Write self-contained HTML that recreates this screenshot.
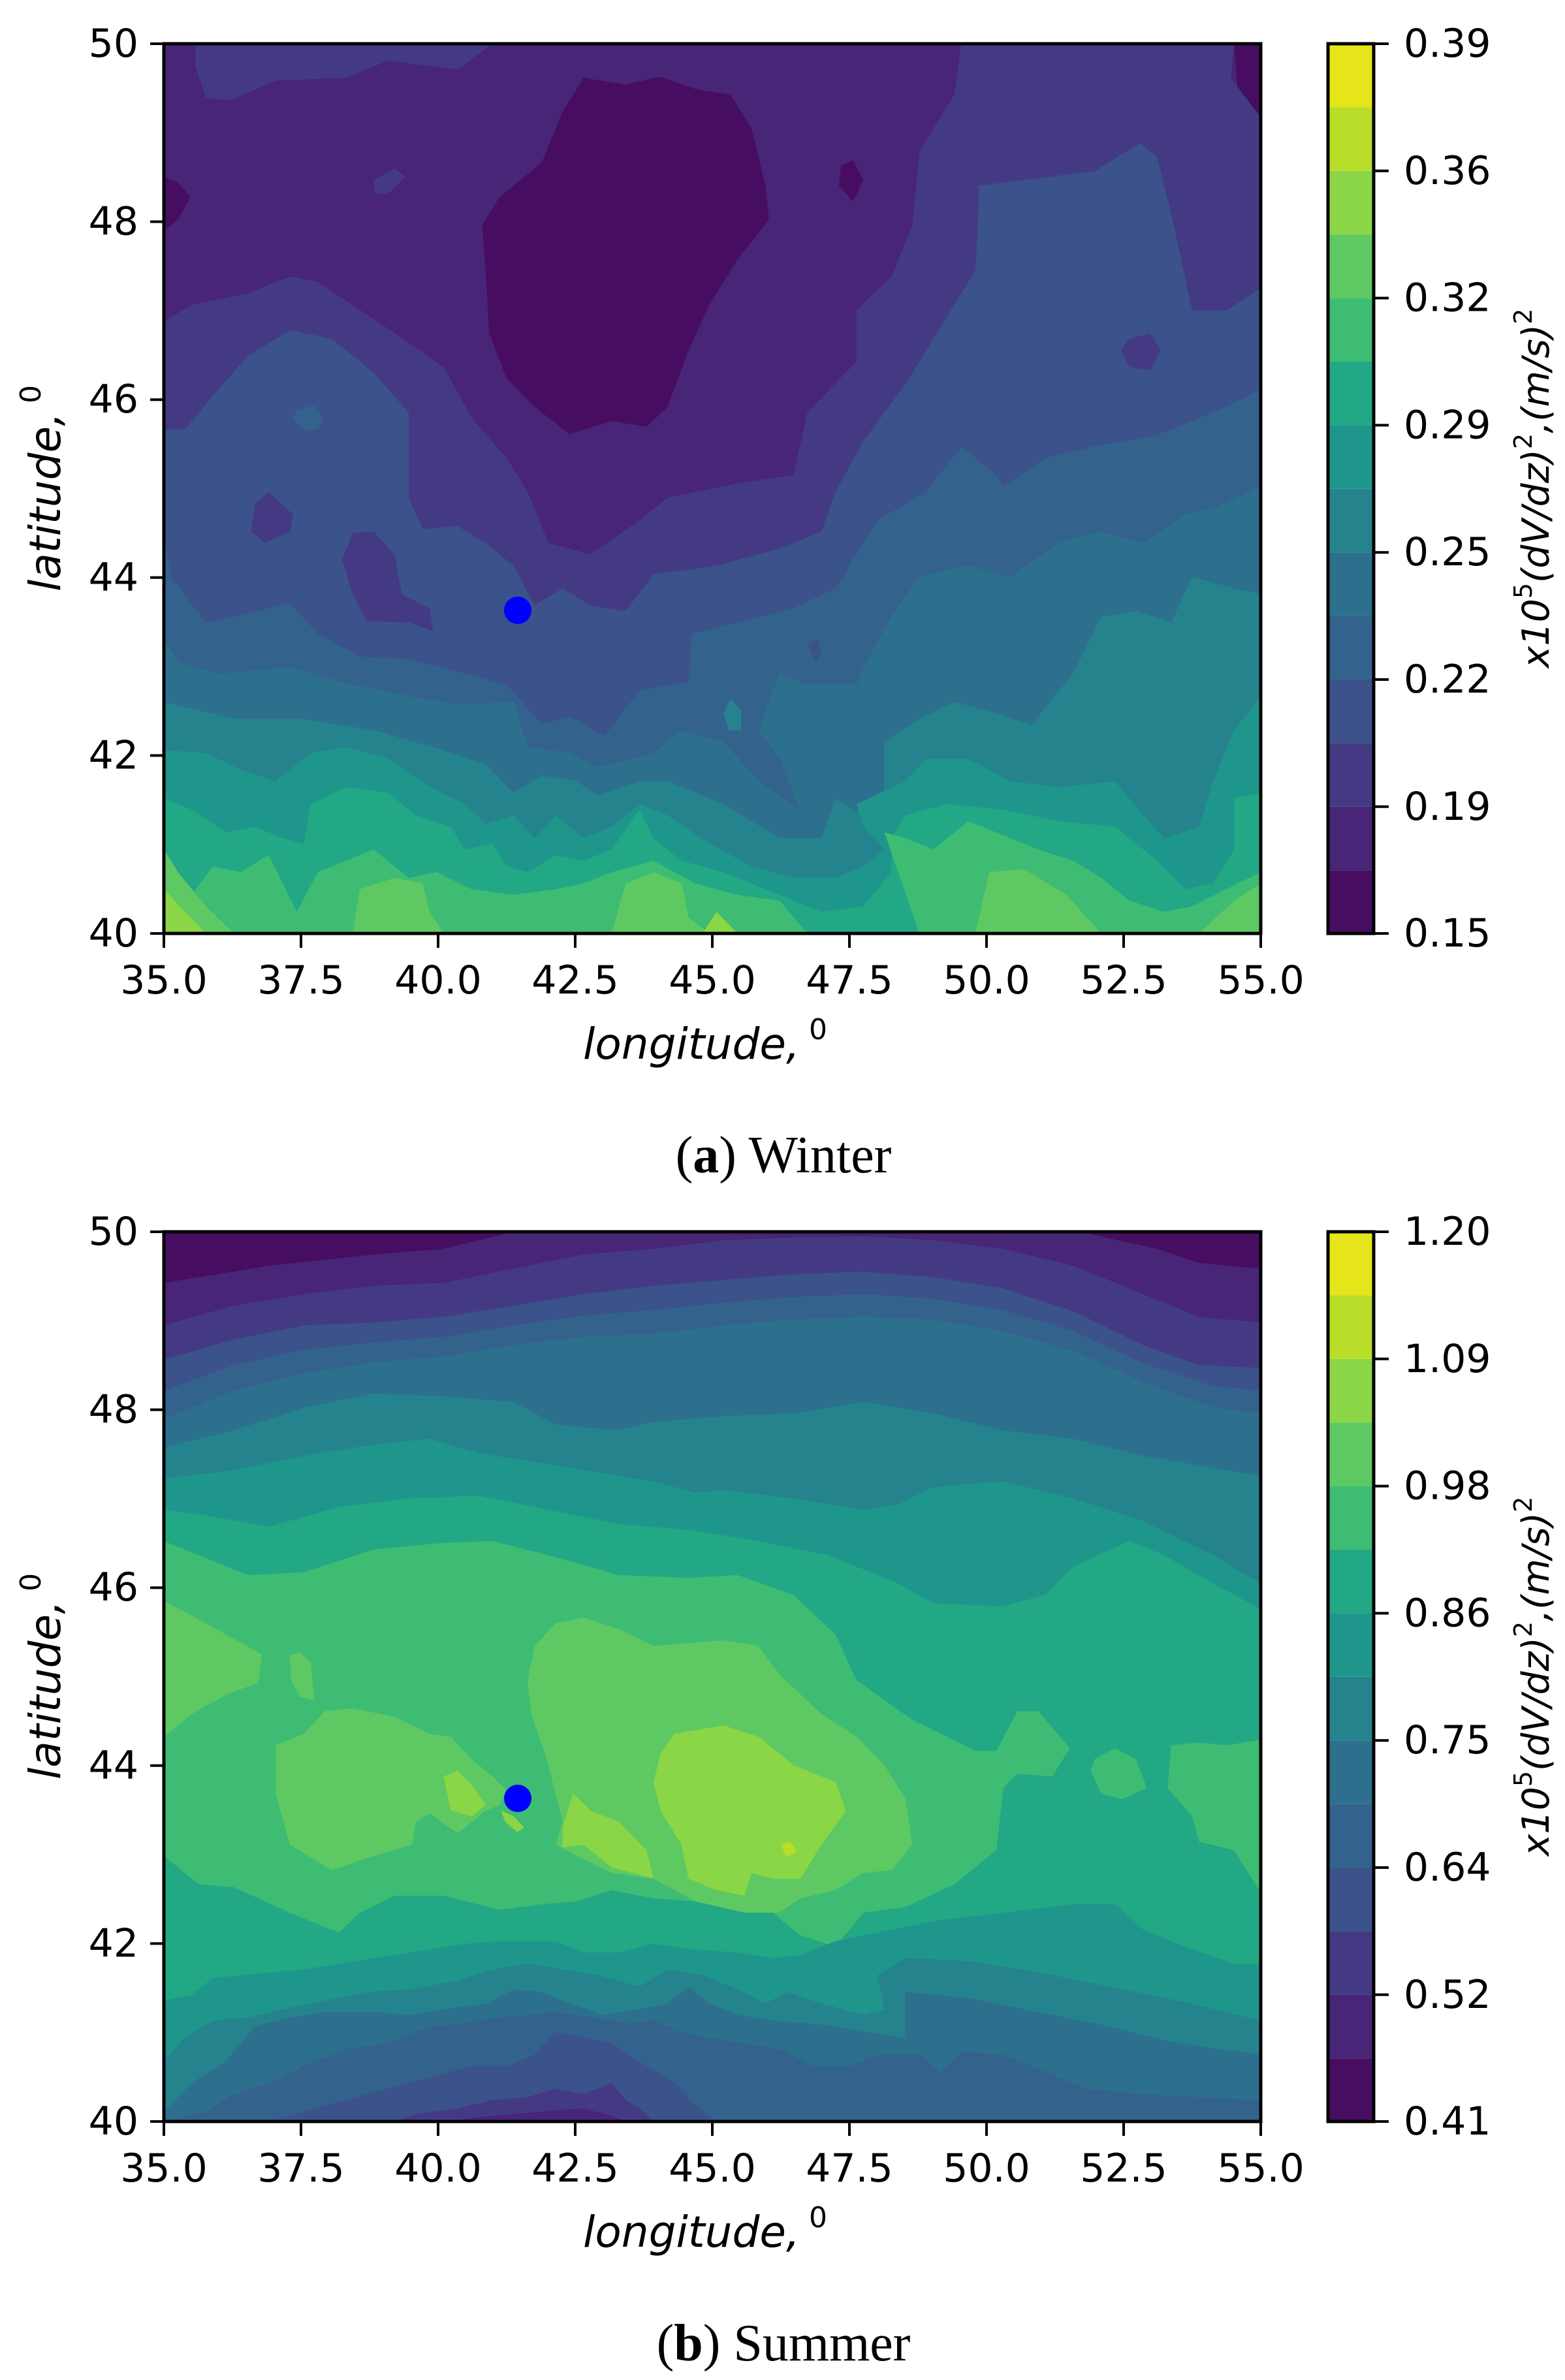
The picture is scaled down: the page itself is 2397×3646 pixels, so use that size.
<!DOCTYPE html>
<html><head><meta charset="utf-8"><style>
html,body{margin:0;padding:0;background:#fff;}
svg{display:block;}
text{font-family:"DejaVu Sans","Liberation Sans",sans-serif;fill:#000;}
</style></head><body>
<svg width="2397" height="3646" viewBox="0 0 2397 3646" xmlns="http://www.w3.org/2000/svg">
<rect width="2397" height="3646" fill="#fff"/>

<!-- ============ WINTER PLOT ============ -->
<svg x="251" y="67" width="1680" height="1363" viewBox="0 0 1568 1568" preserveAspectRatio="none">
<rect width="1568" height="1568" fill="#482576"/>
<polygon fill="#470d60" points="600,60 660,72 710,58 760,80 810,90 840,150 860,250 865,310 820,380 780,460 750,540 720,640 690,675 640,665 580,688 530,640 490,590 465,510 460,400 455,320 480,270 540,210 570,120"/>
<polygon fill="#470d60" points="0,235 20,245 38,270 20,310 0,330"/>
<polygon fill="#470d60" points="985,205 1000,240 985,278 965,250 968,215"/>
<polygon fill="#470d60" points="1530,0 1568,0 1568,130 1535,90"/>
<polygon fill="#443a83" points="45,0 470,0 420,45 320,30 260,60 160,65 95,100 60,95 45,40"/>
<polygon fill="#443a83" points="300,240 330,220 345,235 320,265 302,265"/>
<polygon fill="#443a83" points="1140,0 1530,0 1525,60 1568,130 1568,1568 0,1568 0,490 40,460 120,440 180,410 220,420 330,510 400,570 440,660 490,730 520,790 550,880 610,900 680,840 720,800 820,775 900,760 920,650 990,560 990,470 1040,410 1070,320 1080,190 1130,90"/>
<polygon fill="#3b528b" points="1165,250 1230,240 1330,225 1395,175 1420,200 1440,300 1470,470 1520,470 1568,430 1568,1568 0,1568 0,680 30,680 70,620 120,550 180,505 240,520 300,580 350,650 350,800 370,855 420,850 460,880 500,920 530,990 570,960 610,990 660,1000 700,935 790,920 880,890 940,860 960,790 1000,700 1060,600 1110,500 1160,400 1165,280"/>
<polygon fill="#443a83" points="1380,520 1410,510 1425,540 1410,575 1380,570 1368,540"/>
<polygon fill="#443a83" points="150,790 185,830 180,860 145,880 125,860 130,810"/>
<polygon fill="#443a83" points="270,862 300,860 330,900 340,970 380,995 385,1035 350,1020 290,1018 270,970 255,910"/>
<polygon fill="#33638d" points="190,645 215,638 228,660 220,680 200,682 185,660"/>
<polygon fill="#33638d" points="0,860 10,940 60,1020 120,1005 180,985 220,1040 280,1080 350,1085 430,1110 490,1130 540,1200 580,1185 630,1220 680,1140 750,1125 755,1040 820,1020 900,995 960,960 1000,880 1020,840 1090,790 1140,710 1190,760 1200,780 1260,730 1330,710 1420,690 1500,650 1568,610 1568,1568 0,1568"/>
<polygon fill="#3b528b" points="920,1060 935,1050 940,1075 932,1090"/>
<polygon fill="#2d708e" points="0,1050 20,1090 80,1110 180,1100 270,1130 350,1150 420,1165 500,1160 520,1240 580,1250 620,1275 700,1250 740,1210 800,1230 850,1300 910,1350 880,1260 850,1210 880,1110 920,1130 990,1130 1000,1100 1040,1010 1080,940 1150,920 1210,940 1280,880 1340,860 1400,880 1460,830 1500,820 1568,780 1568,1568 0,1568"/>
<polygon fill="#25838e" points="0,1160 100,1190 200,1190 300,1210 400,1245 460,1270 500,1320 540,1290 590,1300 620,1325 680,1300 720,1300 800,1340 880,1400 940,1400 960,1330 1000,1360 1030,1320 1030,1230 1080,1190 1130,1160 1190,1180 1240,1200 1300,1110 1340,1010 1390,1000 1440,1020 1470,940 1530,960 1568,970 1568,1568 0,1568"/>
<polygon fill="#25838e" points="810,1155 825,1175 825,1210 808,1210 800,1180"/>
<polygon fill="#1f968b" points="0,1245 60,1250 110,1280 160,1300 210,1250 260,1240 320,1260 380,1310 430,1340 460,1375 500,1360 530,1400 560,1360 600,1400 640,1380 680,1340 720,1360 780,1410 840,1450 900,1470 960,1470 1000,1450 1030,1420 1000,1380 990,1340 1060,1300 1090,1260 1150,1260 1210,1300 1280,1310 1360,1300 1400,1360 1430,1400 1480,1380 1500,1300 1530,1210 1568,1150 1568,1568 0,1568"/>
<polygon fill="#22a884" points="0,1330 40,1350 90,1390 130,1380 170,1400 200,1410 210,1340 260,1310 320,1320 360,1360 410,1380 430,1420 470,1410 490,1450 520,1460 560,1430 600,1440 640,1420 680,1350 700,1400 740,1440 800,1460 880,1500 940,1530 1000,1520 1040,1460 1040,1400 1060,1360 1120,1340 1200,1350 1280,1370 1360,1380 1420,1440 1460,1490 1500,1480 1530,1420 1530,1330 1568,1320 1568,1568 0,1568"/>
<polygon fill="#3fbc73" points="0,1420 40,1500 70,1450 110,1460 150,1430 190,1530 220,1460 260,1440 300,1420 350,1470 390,1460 440,1490 500,1500 560,1490 600,1480 640,1460 700,1440 760,1480 820,1500 880,1510 920,1568 0,1568"/>
<polygon fill="#3fbc73" points="1080,1568 1030,1390 1060,1400 1100,1420 1150,1370 1250,1420 1300,1440 1340,1470 1380,1510 1430,1530 1470,1520 1568,1460 1568,1568"/>
<polygon fill="#5ec962" points="0,1420 20,1460 60,1520 100,1568 0,1568"/>
<polygon fill="#5ec962" points="270,1568 280,1490 330,1470 370,1480 380,1530 400,1568"/>
<polygon fill="#5ec962" points="640,1568 660,1480 700,1460 740,1480 750,1540 780,1568"/>
<polygon fill="#5ec962" points="1160,1568 1180,1460 1230,1455 1290,1500 1340,1568"/>
<polygon fill="#5ec962" points="1480,1568 1530,1510 1568,1480 1568,1568"/>
<polygon fill="#8bd646" points="0,1490 30,1530 60,1568 0,1568"/>
<polygon fill="#8bd646" points="770,1568 790,1530 820,1568"/>
</svg>
<circle cx="793" cy="935" r="21" fill="#0000ff"/>
<rect x="251" y="67" width="1680" height="1363" fill="none" stroke="#000" stroke-width="5"/>

<!-- ============ SUMMER PLOT ============ -->
<svg x="251" y="1887" width="1680" height="1363" viewBox="0 0 1568 1568" preserveAspectRatio="none">
<rect width="1568" height="1568" fill="#470d60"/>
<polygon fill="#482576" points="0,90 150,60 300,40 400,30 500,0 1310,0 1420,30 1480,55 1568,65 1568,1568 0,1568"/>
<polygon fill="#443a83" points="0,165 100,130 200,110 300,95 400,90 500,65 600,40 700,30 800,15 900,10 1000,8 1100,15 1200,30 1300,60 1400,110 1480,150 1568,160 1568,1568 0,1568"/>
<polygon fill="#3b528b" points="0,225 100,190 200,165 300,160 400,150 500,130 600,110 700,95 800,85 900,75 1000,70 1100,80 1200,100 1300,140 1400,200 1480,235 1568,240 1568,1568 0,1568"/>
<polygon fill="#33638d" points="0,280 100,235 200,208 300,195 400,185 500,165 600,148 700,138 800,125 900,115 1000,110 1100,118 1200,138 1300,175 1400,232 1500,272 1568,280 1568,1568 0,1568"/>
<polygon fill="#2d708e" points="0,330 100,280 200,250 300,230 400,220 500,200 600,185 700,180 800,165 900,155 1000,150 1100,155 1200,175 1300,210 1400,265 1500,310 1568,320 1568,1568 0,1568"/>
<polygon fill="#25838e" points="0,380 100,350 200,310 300,285 400,290 500,300 560,340 650,350 700,335 800,325 900,320 1000,300 1100,320 1200,350 1300,365 1400,395 1568,430 1568,1568 0,1568"/>
<polygon fill="#1f968b" points="0,435 100,420 200,395 300,375 380,365 450,390 550,410 650,430 700,440 760,460 800,455 900,470 1000,490 1050,480 1100,450 1200,440 1300,470 1400,510 1500,570 1568,620 1568,1568 0,1568"/>
<polygon fill="#22a884" points="0,490 60,500 150,520 250,485 350,470 450,465 550,490 650,515 750,525 850,545 950,570 1050,620 1100,655 1200,660 1260,640 1300,590 1380,545 1430,570 1500,620 1568,665 1568,1568 0,1568"/>
<polygon fill="#3fbc73" points="0,545 70,580 120,605 200,600 300,560 400,548 470,545 550,570 650,605 750,610 820,605 900,640 960,710 990,790 1070,860 1160,915 1190,915 1220,845 1250,845 1295,910 1270,960 1220,955 1200,980 1190,1090 1130,1150 1060,1190 1000,1200 960,1260 910,1240 870,1200 810,1190 760,1180 700,1175 640,1160 590,1180 540,1185 480,1195 400,1170 330,1170 280,1200 250,1235 180,1200 100,1155 50,1150 0,1100"/>
<polygon fill="#3fbc73" points="1330,930 1360,910 1390,930 1405,980 1370,1000 1340,990 1325,950"/>
<polygon fill="#3fbc73" points="1440,905 1480,900 1520,905 1568,895 1568,1165 1530,1090 1480,1075 1470,1030 1435,980"/>
<polygon fill="#5ec962" points="0,650 60,690 140,745 135,795 90,815 40,850 0,890"/>
<polygon fill="#5ec962" points="180,745 195,742 210,760 215,825 195,820 182,790"/>
<polygon fill="#5ec962" points="160,905 200,885 230,845 270,840 330,855 380,885 410,890 440,930 470,960 490,985 480,1010 460,1020 420,1060 380,1025 360,1040 355,1080 300,1100 240,1125 180,1080 160,990"/>
<polygon fill="#5ec962" points="520,790 530,730 560,690 600,680 650,700 700,730 800,720 850,730 880,780 940,850 990,890 1030,940 1060,1000 1070,1080 1040,1125 1000,1130 960,1160 910,1175 880,1200 830,1200 760,1180 700,1140 640,1130 590,1100 560,1080 570,1040 560,990 545,920 525,850"/>
<polygon fill="#8bd646" points="400,960 420,950 440,975 460,1010 440,1030 410,1020"/>
<polygon fill="#8bd646" points="482,1020 500,1030 515,1050 505,1058 488,1040"/>
<polygon fill="#8bd646" points="570,1050 585,990 610,1020 650,1040 690,1090 700,1140 670,1130 640,1120 600,1080 570,1085"/>
<polygon fill="#8bd646" points="710,920 730,885 800,870 850,890 900,940 960,970 975,1020 940,1080 910,1140 870,1140 840,1130 830,1170 790,1160 750,1140 740,1080 710,1020 700,970"/>
<polygon fill="#b8de29" points="882,1080 895,1075 905,1092 890,1102"/>
<polygon fill="#1f968b" points="0,1355 40,1345 70,1315 200,1300 300,1280 380,1265 430,1255 480,1250 560,1250 600,1270 650,1270 700,1255 760,1265 820,1270 870,1280 910,1275 960,1250 1000,1240 1040,1230 1100,1215 1200,1200 1300,1185 1360,1185 1400,1230 1460,1260 1530,1290 1568,1290 1568,1568 0,1568"/>
<polygon fill="#25838e" points="0,1460 30,1420 70,1390 120,1385 170,1370 230,1355 290,1340 350,1335 420,1320 470,1300 520,1290 570,1300 620,1310 680,1330 720,1300 770,1310 820,1335 860,1360 890,1340 940,1360 1000,1380 1030,1370 1020,1310 1060,1280 1150,1285 1250,1305 1350,1330 1450,1355 1568,1390 1568,1568 0,1568"/>
<polygon fill="#2d708e" points="0,1550 40,1500 90,1460 130,1400 180,1385 230,1375 300,1375 350,1380 400,1370 460,1360 500,1335 540,1340 580,1360 630,1380 680,1370 720,1360 750,1330 780,1360 820,1380 870,1390 920,1395 960,1400 1000,1410 1060,1420 1060,1340 1150,1350 1250,1375 1350,1400 1450,1430 1568,1450 1568,1568 0,1568"/>
<polygon fill="#33638d" points="0,1568 60,1550 100,1520 150,1500 200,1470 260,1440 320,1430 380,1400 430,1395 470,1385 520,1380 560,1375 620,1385 660,1395 700,1390 740,1410 780,1420 830,1430 880,1440 930,1470 980,1470 1020,1450 1080,1450 1110,1480 1140,1445 1200,1450 1260,1480 1320,1510 1400,1520 1568,1530 1568,1568"/>
<polygon fill="#3b528b" points="150,1568 200,1550 260,1530 320,1510 380,1490 440,1470 490,1470 530,1450 560,1410 600,1420 640,1430 690,1470 730,1500 760,1540 790,1568"/>
<polygon fill="#443a83" points="330,1568 360,1555 420,1545 470,1530 520,1525 560,1510 600,1520 640,1500 660,1530 680,1545 700,1568"/>
<polygon fill="#482576" points="410,1568 450,1560 500,1555 560,1548 600,1545 640,1558 660,1568"/>
</svg>
<circle cx="793" cy="2755" r="21" fill="#0000ff"/>
<rect x="251" y="1887" width="1680" height="1363" fill="none" stroke="#000" stroke-width="5"/>

<!-- ============ COLORBARS ============ -->
<g id="cb1">
<rect x="2034" y="67.0" width="70" height="97.4" fill="#e6e51a"/>
<rect x="2034" y="164.4" width="70" height="97.4" fill="#b8de29"/>
<rect x="2034" y="261.8" width="70" height="97.4" fill="#8bd646"/>
<rect x="2034" y="359.2" width="70" height="97.4" fill="#5ec962"/>
<rect x="2034" y="456.6" width="70" height="97.4" fill="#3fbc73"/>
<rect x="2034" y="554.0" width="70" height="97.4" fill="#22a884"/>
<rect x="2034" y="651.4" width="70" height="97.4" fill="#1f968b"/>
<rect x="2034" y="748.8" width="70" height="97.4" fill="#25838e"/>
<rect x="2034" y="846.2" width="70" height="97.4" fill="#2d708e"/>
<rect x="2034" y="943.6" width="70" height="97.4" fill="#33638d"/>
<rect x="2034" y="1041.0" width="70" height="97.4" fill="#3b528b"/>
<rect x="2034" y="1138.4" width="70" height="97.4" fill="#443a83"/>
<rect x="2034" y="1235.8" width="70" height="97.4" fill="#482576"/>
<rect x="2034" y="1333.2" width="70" height="96.8" fill="#470d60"/>
</g>
<rect x="2034" y="67" width="70" height="1363" fill="none" stroke="#000" stroke-width="5"/>
<use href="#cb1" y="1820"/>
<rect x="2034" y="1887" width="70" height="1363" fill="none" stroke="#000" stroke-width="5"/>

<g stroke="#000" stroke-width="4">
<line x1="2104" x2="2127" y1="67" y2="67"/><line x1="2104" x2="2127" y1="261.8" y2="261.8"/>
<line x1="2104" x2="2127" y1="456.6" y2="456.6"/><line x1="2104" x2="2127" y1="651.4" y2="651.4"/>
<line x1="2104" x2="2127" y1="846.2" y2="846.2"/><line x1="2104" x2="2127" y1="1041" y2="1041"/>
<line x1="2104" x2="2127" y1="1235.8" y2="1235.8"/><line x1="2104" x2="2127" y1="1430" y2="1430"/>
<line x1="2104" x2="2127" y1="1887" y2="1887"/><line x1="2104" x2="2127" y1="2081.8" y2="2081.8"/>
<line x1="2104" x2="2127" y1="2276.6" y2="2276.6"/><line x1="2104" x2="2127" y1="2471.4" y2="2471.4"/>
<line x1="2104" x2="2127" y1="2666.2" y2="2666.2"/><line x1="2104" x2="2127" y1="2861" y2="2861"/>
<line x1="2104" x2="2127" y1="3055.8" y2="3055.8"/><line x1="2104" x2="2127" y1="3250" y2="3250"/>
<line x1="230" x2="251" y1="67" y2="67"/><line x1="230" x2="251" y1="339.6" y2="339.6"/>
<line x1="230" x2="251" y1="612.2" y2="612.2"/><line x1="230" x2="251" y1="884.8" y2="884.8"/>
<line x1="230" x2="251" y1="1157.4" y2="1157.4"/><line x1="230" x2="251" y1="1430" y2="1430"/>
<line x1="230" x2="251" y1="1887" y2="1887"/><line x1="230" x2="251" y1="2159.6" y2="2159.6"/>
<line x1="230" x2="251" y1="2432.2" y2="2432.2"/><line x1="230" x2="251" y1="2704.8" y2="2704.8"/>
<line x1="230" x2="251" y1="2977.4" y2="2977.4"/><line x1="230" x2="251" y1="3250" y2="3250"/>
</g>
<g stroke="#000" stroke-width="4">
<line x1="251" x2="251" y1="1430" y2="1452"/><line x1="461" x2="461" y1="1430" y2="1452"/>
<line x1="671" x2="671" y1="1430" y2="1452"/><line x1="881" x2="881" y1="1430" y2="1452"/>
<line x1="1091" x2="1091" y1="1430" y2="1452"/><line x1="1301" x2="1301" y1="1430" y2="1452"/>
<line x1="1511" x2="1511" y1="1430" y2="1452"/><line x1="1721" x2="1721" y1="1430" y2="1452"/>
<line x1="1931" x2="1931" y1="1430" y2="1452"/>
<line x1="251" x2="251" y1="3250" y2="3272"/><line x1="461" x2="461" y1="3250" y2="3272"/>
<line x1="671" x2="671" y1="3250" y2="3272"/><line x1="881" x2="881" y1="3250" y2="3272"/>
<line x1="1091" x2="1091" y1="3250" y2="3272"/><line x1="1301" x2="1301" y1="3250" y2="3272"/>
<line x1="1511" x2="1511" y1="3250" y2="3272"/><line x1="1721" x2="1721" y1="3250" y2="3272"/>
<line x1="1931" x2="1931" y1="3250" y2="3272"/>
</g>

<g font-size="60" text-anchor="end" dominant-baseline="central">
<text x="212" y="67">50</text><text x="212" y="339.6">48</text><text x="212" y="612.2">46</text>
<text x="212" y="884.8">44</text><text x="212" y="1157.4">42</text><text x="212" y="1430">40</text>
<text x="212" y="1887">50</text><text x="212" y="2159.6">48</text><text x="212" y="2432.2">46</text>
<text x="212" y="2704.8">44</text><text x="212" y="2977.4">42</text><text x="212" y="3250">40</text>
</g>
<g font-size="60" text-anchor="middle" dominant-baseline="central">
<text x="251" y="1502">35.0</text><text x="461" y="1502">37.5</text><text x="671" y="1502">40.0</text>
<text x="881" y="1502">42.5</text><text x="1091" y="1502">45.0</text><text x="1301" y="1502">47.5</text>
<text x="1511" y="1502">50.0</text><text x="1721" y="1502">52.5</text><text x="1931" y="1502">55.0</text>
<text x="251" y="3322">35.0</text><text x="461" y="3322">37.5</text><text x="671" y="3322">40.0</text>
<text x="881" y="3322">42.5</text><text x="1091" y="3322">45.0</text><text x="1301" y="3322">47.5</text>
<text x="1511" y="3322">50.0</text><text x="1721" y="3322">52.5</text><text x="1931" y="3322">55.0</text>
</g>
<g font-size="60" dominant-baseline="central">
<text x="2150" y="67">0.39</text><text x="2150" y="261.8">0.36</text><text x="2150" y="456.6">0.32</text>
<text x="2150" y="651.4">0.29</text><text x="2150" y="846.2">0.25</text><text x="2150" y="1041">0.22</text>
<text x="2150" y="1235.8">0.19</text><text x="2150" y="1430">0.15</text>
<text x="2150" y="1887">1.20</text><text x="2150" y="2081.8">1.09</text><text x="2150" y="2276.6">0.98</text>
<text x="2150" y="2471.4">0.86</text><text x="2150" y="2666.2">0.75</text><text x="2150" y="2861">0.64</text>
<text x="2150" y="3055.8">0.52</text><text x="2150" y="3250">0.41</text>
</g>

<g font-size="66" font-style="italic" text-anchor="middle">
<text x="1080" y="1622">longitude,<tspan font-size="44" font-style="normal" dy="-30"> 0</tspan></text>
<text x="1080" y="3442">longitude,<tspan font-size="44" font-style="normal" dy="-30"> 0</tspan></text>
<text transform="translate(92,748) rotate(-90)">latitude,<tspan font-size="44" font-style="normal" dy="-30"> 0</tspan></text>
<text transform="translate(92,2568) rotate(-90)">latitude,<tspan font-size="44" font-style="normal" dy="-30"> 0</tspan></text>
</g>
<g font-size="57" font-style="italic" text-anchor="middle">
<text transform="translate(2372,748) rotate(-90)">x10<tspan font-size="38" font-style="normal" dy="-26">5</tspan><tspan dy="26">(dV/dz)</tspan><tspan font-size="38" font-style="normal" dy="-26">2</tspan><tspan dy="26">,(m/s)</tspan><tspan font-size="38" font-style="normal" dy="-26">2</tspan></text>
<text transform="translate(2372,2568) rotate(-90)">x10<tspan font-size="38" font-style="normal" dy="-26">5</tspan><tspan dy="26">(dV/dz)</tspan><tspan font-size="38" font-style="normal" dy="-26">2</tspan><tspan dy="26">,(m/s)</tspan><tspan font-size="38" font-style="normal" dy="-26">2</tspan></text>
</g>

<g font-size="80" text-anchor="middle" dominant-baseline="central">
<text x="1200" y="1770" style="font-family:'Liberation Serif',serif">(<tspan font-weight="bold">a</tspan>) Winter</text>
<text x="1200" y="3590" style="font-family:'Liberation Serif',serif">(<tspan font-weight="bold">b</tspan>) Summer</text>
</g>
</svg>
</body></html>
